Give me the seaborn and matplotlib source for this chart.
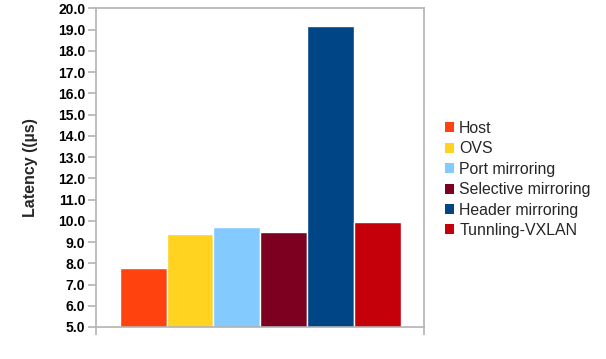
import matplotlib
matplotlib.use("Agg")
import matplotlib.pyplot as plt
import seaborn as sns
import pandas as pd

# Datos
series = ["Host", "OVS", "Port mirroring", "Selective mirroring",
          "Header mirroring", "Tunnling-VXLAN"]
latency = [7.78, 9.39, 9.72, 9.47, 19.17, 9.92]
colores = ["#ff420e", "#ffd320", "#83caff", "#7e0021", "#004586", "#c5000b"]
yticks = [5.0 + i for i in range(16)]

df = pd.DataFrame({"grupo": ["g"] * len(series), "serie": series, "latency": latency})

sns.set_style("white")
plt.rcParams["font.family"] = ["Liberation Sans", "DejaVu Sans"]

fig = plt.figure(figsize=(6.06, 3.59), dpi=100)
ax = fig.add_axes([96.3 / 606, 1 - 327 / 359, (424.3 - 96.3) / 606, (327 - 8.3) / 359])

sns.barplot(data=df, x="grupo", y="latency", hue="serie", hue_order=series,
            palette=colores, width=0.857, saturation=1, ax=ax, legend=False)

ax.set_ylim(5.0, 20.0)
ax.set_xlim(-0.5, 0.5)
ax.set_yticks(yticks)
ax.set_yticklabels([f"{v:.1f}" for v in yticks], fontsize=10, fontweight="bold")
ax.set_xticks([-0.5, 0.5])
ax.set_xticklabels(["", ""])
ax.set_xlabel("")
ax.set_ylabel("Latency ((µs)", fontsize=11.5, fontweight="bold", labelpad=14)

for s in ax.spines.values():
    s.set_color("#b3b3b3")
    s.set_linewidth(1.2)
ax.tick_params(axis="both", colors="#b3b3b3", length=6, width=1.2, direction="out")
ax.tick_params(axis="y", labelcolor="black", pad=2)
ax.tick_params(left=True, bottom=True)

# Leyenda
from matplotlib.patches import Patch
handles = [Patch(facecolor=c, edgecolor="none") for c in colores]
fig.legend(handles, series, loc="center left", bbox_to_anchor=(445 / 606, 0.5),
           frameon=False, fontsize=11.4, handlelength=0.6, handleheight=0.6,
           handletextpad=0.3, labelspacing=0.34, borderpad=0, borderaxespad=0)

plt.savefig("out.png", dpi=100)
plt.close()
